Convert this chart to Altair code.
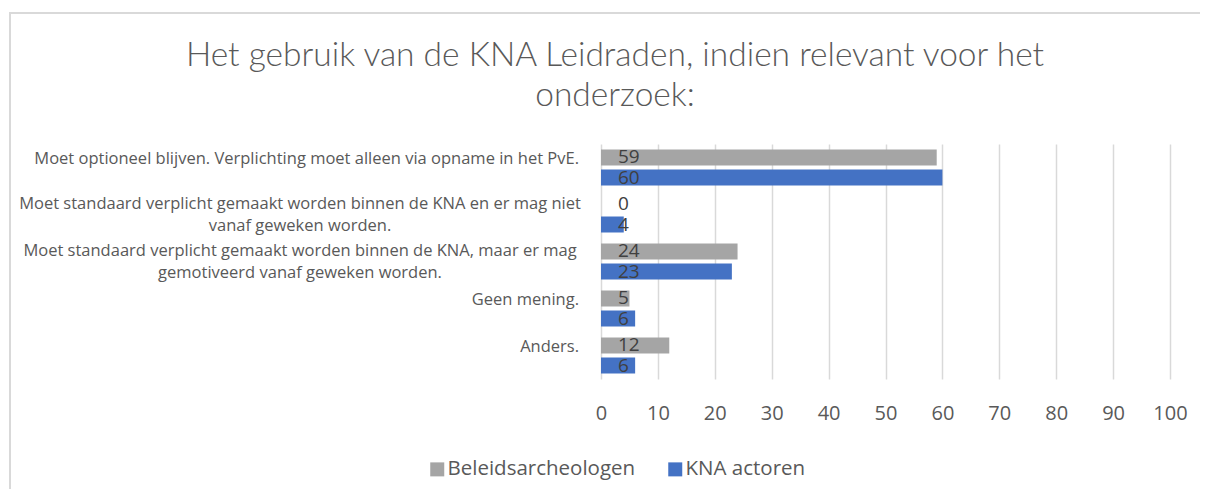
import altair as alt
import pandas as pd

title_lines = ["Het gebruik van de KNA Leidraden, indien relevant voor het",
               "onderzoek:"]
categories = [
    "Moet optioneel blijven. Verplichting moet alleen via opname in het PvE.",
    "Moet standaard verplicht gemaakt worden binnen de KNA en er mag niet|vanaf geweken worden.",
    "Moet standaard verplicht gemaakt worden binnen de KNA, maar er mag|gemotiveerd vanaf geweken worden.",
    "Geen mening.",
    "Anders.",
]
series = ["Beleidsarcheologen", "KNA actoren"]
beleidsarcheologen = [59, 0, 24, 5, 12]
kna_actoren = [60, 4, 23, 6, 6]
colors = ["#A5A5A5", "#4472C4"]
x_ticks = [0, 10, 20, 30, 40, 50, 60, 70, 80, 90, 100]

rows = []
for cat, b, k in zip(categories, beleidsarcheologen, kna_actoren):
    rows.append({"cat": cat, "series": series[0], "value": b})
    rows.append({"cat": cat, "series": series[1], "value": k})
df = pd.DataFrame(rows)
labels_df = pd.DataFrame({"cat": categories,
                          "multi": ["|" in c for c in categories]})

FONT = "Open Sans"
TEXT = "#595959"

y_enc = alt.Y("cat:N", sort=categories, axis=None,
              scale=alt.Scale(paddingInner=0.234, paddingOuter=0.117))

base = alt.Chart(df)

bars = base.mark_bar().encode(
    x=alt.X("value:Q", scale=alt.Scale(domain=[0, 100]),
            axis=alt.Axis(values=x_ticks, title=None, grid=True, domain=False,
                          ticks=False, labelFontSize=20, labelColor=TEXT,
                          labelFont=FONT, labelPadding=24, labelFlush=False,
                          gridColor="#D9D9D9", gridWidth=1.5)),
    y=y_enc,
    yOffset=alt.YOffset("series:N", sort=series,
                        scale=alt.Scale(paddingInner=0.2, paddingOuter=0)),
    color=alt.Color("series:N", sort=series,
                    scale=alt.Scale(domain=series, range=colors),
                    legend=alt.Legend(title=None, orient="none",
                                      direction="horizontal",
                                      legendX=-174, legendY=315,
                                      symbolType="square", symbolSize=196,
                                      symbolStrokeWidth=0, labelLimit=400,
                                      labelFontSize=20.5, labelFont=FONT,
                                      labelColor=TEXT, labelOffset=0,
                                      columnPadding=29, padding=0)),
)

values_text = base.mark_text(align="left", baseline="middle", dx=17,
                             fontSize=19, font=FONT, color="#404040").encode(
    x=alt.datum(0),
    y=alt.Y("cat:N", sort=categories),
    yOffset=alt.YOffset("series:N", sort=series),
    text=alt.Text("value:Q"),
)

LBL = 16.5
single_labels = alt.Chart(labels_df).transform_filter(
    "!datum.multi").mark_text(
    align="right", baseline="middle", dy=-9, fontSize=LBL, font=FONT,
    color=TEXT).encode(
    x=alt.value(-22),
    y=alt.Y("cat:N", sort=categories),
    text="cat:N",
)

multi_labels = alt.Chart(labels_df).transform_filter(
    "datum.multi").mark_text(
    align="center", baseline="middle", lineBreak="|", lineHeight=22.5,
    dy=-11, fontSize=LBL, font=FONT, color=TEXT).encode(
    x=alt.value(-301),
    y=alt.Y("cat:N", sort=categories),
    text="cat:N",
)

frame_df = pd.DataFrame({"k": [0]})
frame_left = alt.Chart(frame_df).mark_rule(color="#D9D9D9", strokeWidth=2).encode(
    x=alt.value(-591), y=alt.value(-131), y2=alt.value(360))
frame_top = alt.Chart(frame_df).mark_rule(color="#D9D9D9", strokeWidth=2).encode(
    x=alt.value(-592), x2=alt.value(610), y=alt.value(-131))

TFS = 33.5
title1 = alt.Chart(frame_df).mark_text(
    text=title_lines[0], font="Lato", fontWeight=300, fontSize=TFS, color=TEXT,
    align="center", baseline="middle").encode(
    x=alt.value(14), y=alt.value(-88))
title2 = alt.Chart(frame_df).mark_text(
    text=title_lines[1], font="Lato", fontWeight=300, fontSize=TFS, color=TEXT,
    align="center", baseline="middle").encode(
    x=alt.value(14), y=alt.value(-48))

chart = alt.layer(frame_left, frame_top, title1, title2, bars, values_text,
                  single_labels, multi_labels).properties(
    width=569, height=235,
    autosize=alt.AutoSizeParams(type="none"),
    padding={"left": 593, "top": 136, "right": 30, "bottom": 110},
    background="white",
).configure_view(stroke=None)

chart.save("out.html", embed_options={"renderer": "svg", "actions": False})
